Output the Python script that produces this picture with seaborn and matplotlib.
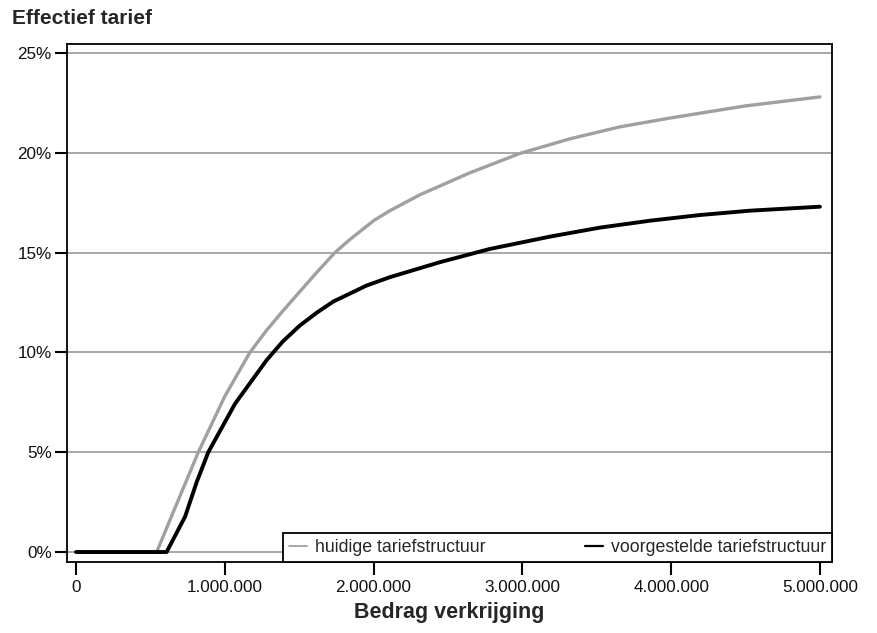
import matplotlib
matplotlib.use("Agg")
import matplotlib.pyplot as plt
import matplotlib.ticker as mticker
from matplotlib.lines import Line2D
import seaborn as sns
import pandas as pd

# Data (bedrag in euro, effectief tarief in %)
huidig_x = [0, 542000, 598000, 665000, 721000, 822000, 1000000, 1169000, 1280000,
            1393000, 1617000, 1740000, 1840000, 2000000, 2110000, 2312000, 2648000,
            2984000, 3320000, 3656000, 4000000, 4500000, 5000000]
huidig_y = [0, 0, 1.0, 2.2, 3.2, 5.0, 7.8, 10.0, 11.1,
            12.1, 14.0, 15.0, 15.65, 16.6, 17.1, 17.9, 19.0,
            19.97, 20.7, 21.3, 21.75, 22.35, 22.8]
voorgesteld_x = [0, 609000, 733000, 811000, 889000, 1069000, 1280000, 1390000, 1505000,
                 1620000, 1730000, 1953000, 2110000, 2446000, 2780000, 3185000,
                 3520000, 3860000, 4190000, 4530000, 5000000]
voorgesteld_y = [0, 0, 1.77, 3.5, 5.0, 7.43, 9.6, 10.55, 11.35,
                 12.0, 12.55, 13.35, 13.77, 14.52, 15.18, 15.8,
                 16.25, 16.6, 16.88, 17.1, 17.3]
series_names = ["huidige tariefstructuur", "voorgestelde tariefstructuur"]
x_ticks = [0, 1000000, 2000000, 3000000, 4000000, 5000000]
y_ticks = [0, 5, 10, 15, 20, 25]

df = pd.concat([
    pd.DataFrame({"x": huidig_x, "y": huidig_y, "serie": series_names[0]}),
    pd.DataFrame({"x": voorgesteld_x, "y": voorgesteld_y, "serie": series_names[1]}),
], ignore_index=True)

sns.set_theme(style="white")
plt.rcParams["font.family"] = ["Liberation Sans", "DejaVu Sans"]

fig = plt.figure(figsize=(8.77, 6.33), dpi=100)
ax = fig.add_axes([67/877, 1-562/633, (832-67)/877, (562-44)/633])

for yt in y_ticks:
    ax.axhline(yt, color="#9a9a9a", lw=1.2, zorder=0)

sns.lineplot(data=df, x="x", y="y", hue="serie", hue_order=series_names,
             palette={series_names[0]: "#a0a0a0", series_names[1]: "#000000"},
             sort=False, estimator=None, ax=ax, legend=False, zorder=3)
lines = ax.get_lines()[len(y_ticks):]
lines[0].set_linewidth(2.4)
lines[1].set_linewidth(2.8)
for ln in lines:
    ln.set_solid_joinstyle("round")
    ln.set_solid_capstyle("round")

ax.set_xlim(-60500, 5081000)
ax.set_ylim(-0.5, 25.45)
ax.set_xticks(x_ticks)
ax.set_yticks(y_ticks)
ax.xaxis.set_major_formatter(mticker.FuncFormatter(lambda v, p: f"{int(v):,}".replace(",", ".")))
ax.yaxis.set_major_formatter(mticker.FuncFormatter(lambda v, p: f"{int(v)}%"))
ax.tick_params(axis="both", direction="out", length=9, width=1.5, color="black",
               labelsize=12.3, labelcolor="#111111", bottom=True, left=True)
ax.tick_params(axis="x", pad=4)
ax.tick_params(axis="y", pad=2)
for s in ax.spines.values():
    s.set_color("black")
    s.set_linewidth(1.3)
    s.set_visible(True)

ax.set_xlabel("Bedrag verkrijging", fontsize=15.5, fontweight="bold", labelpad=5)
ax.set_ylabel("")
fig.text(12/877, 1-18/633, "Effectief tarief", fontsize=15, fontweight="bold",
         ha="left", va="center")

handles = [Line2D([], [], color="#a0a0a0", lw=1.3), Line2D([], [], color="black", lw=1.6)]
leg = ax.legend(handles, series_names, loc="lower right", ncol=2,
                borderaxespad=0, fancybox=False, framealpha=1, edgecolor="black",
                fontsize=12.8, handlelength=1.0, handletextpad=0.45,
                columnspacing=5.6, borderpad=0.35)
leg.get_frame().set_linewidth(1.3)
leg.set_zorder(5)

fig.savefig("out.png", dpi=100)
